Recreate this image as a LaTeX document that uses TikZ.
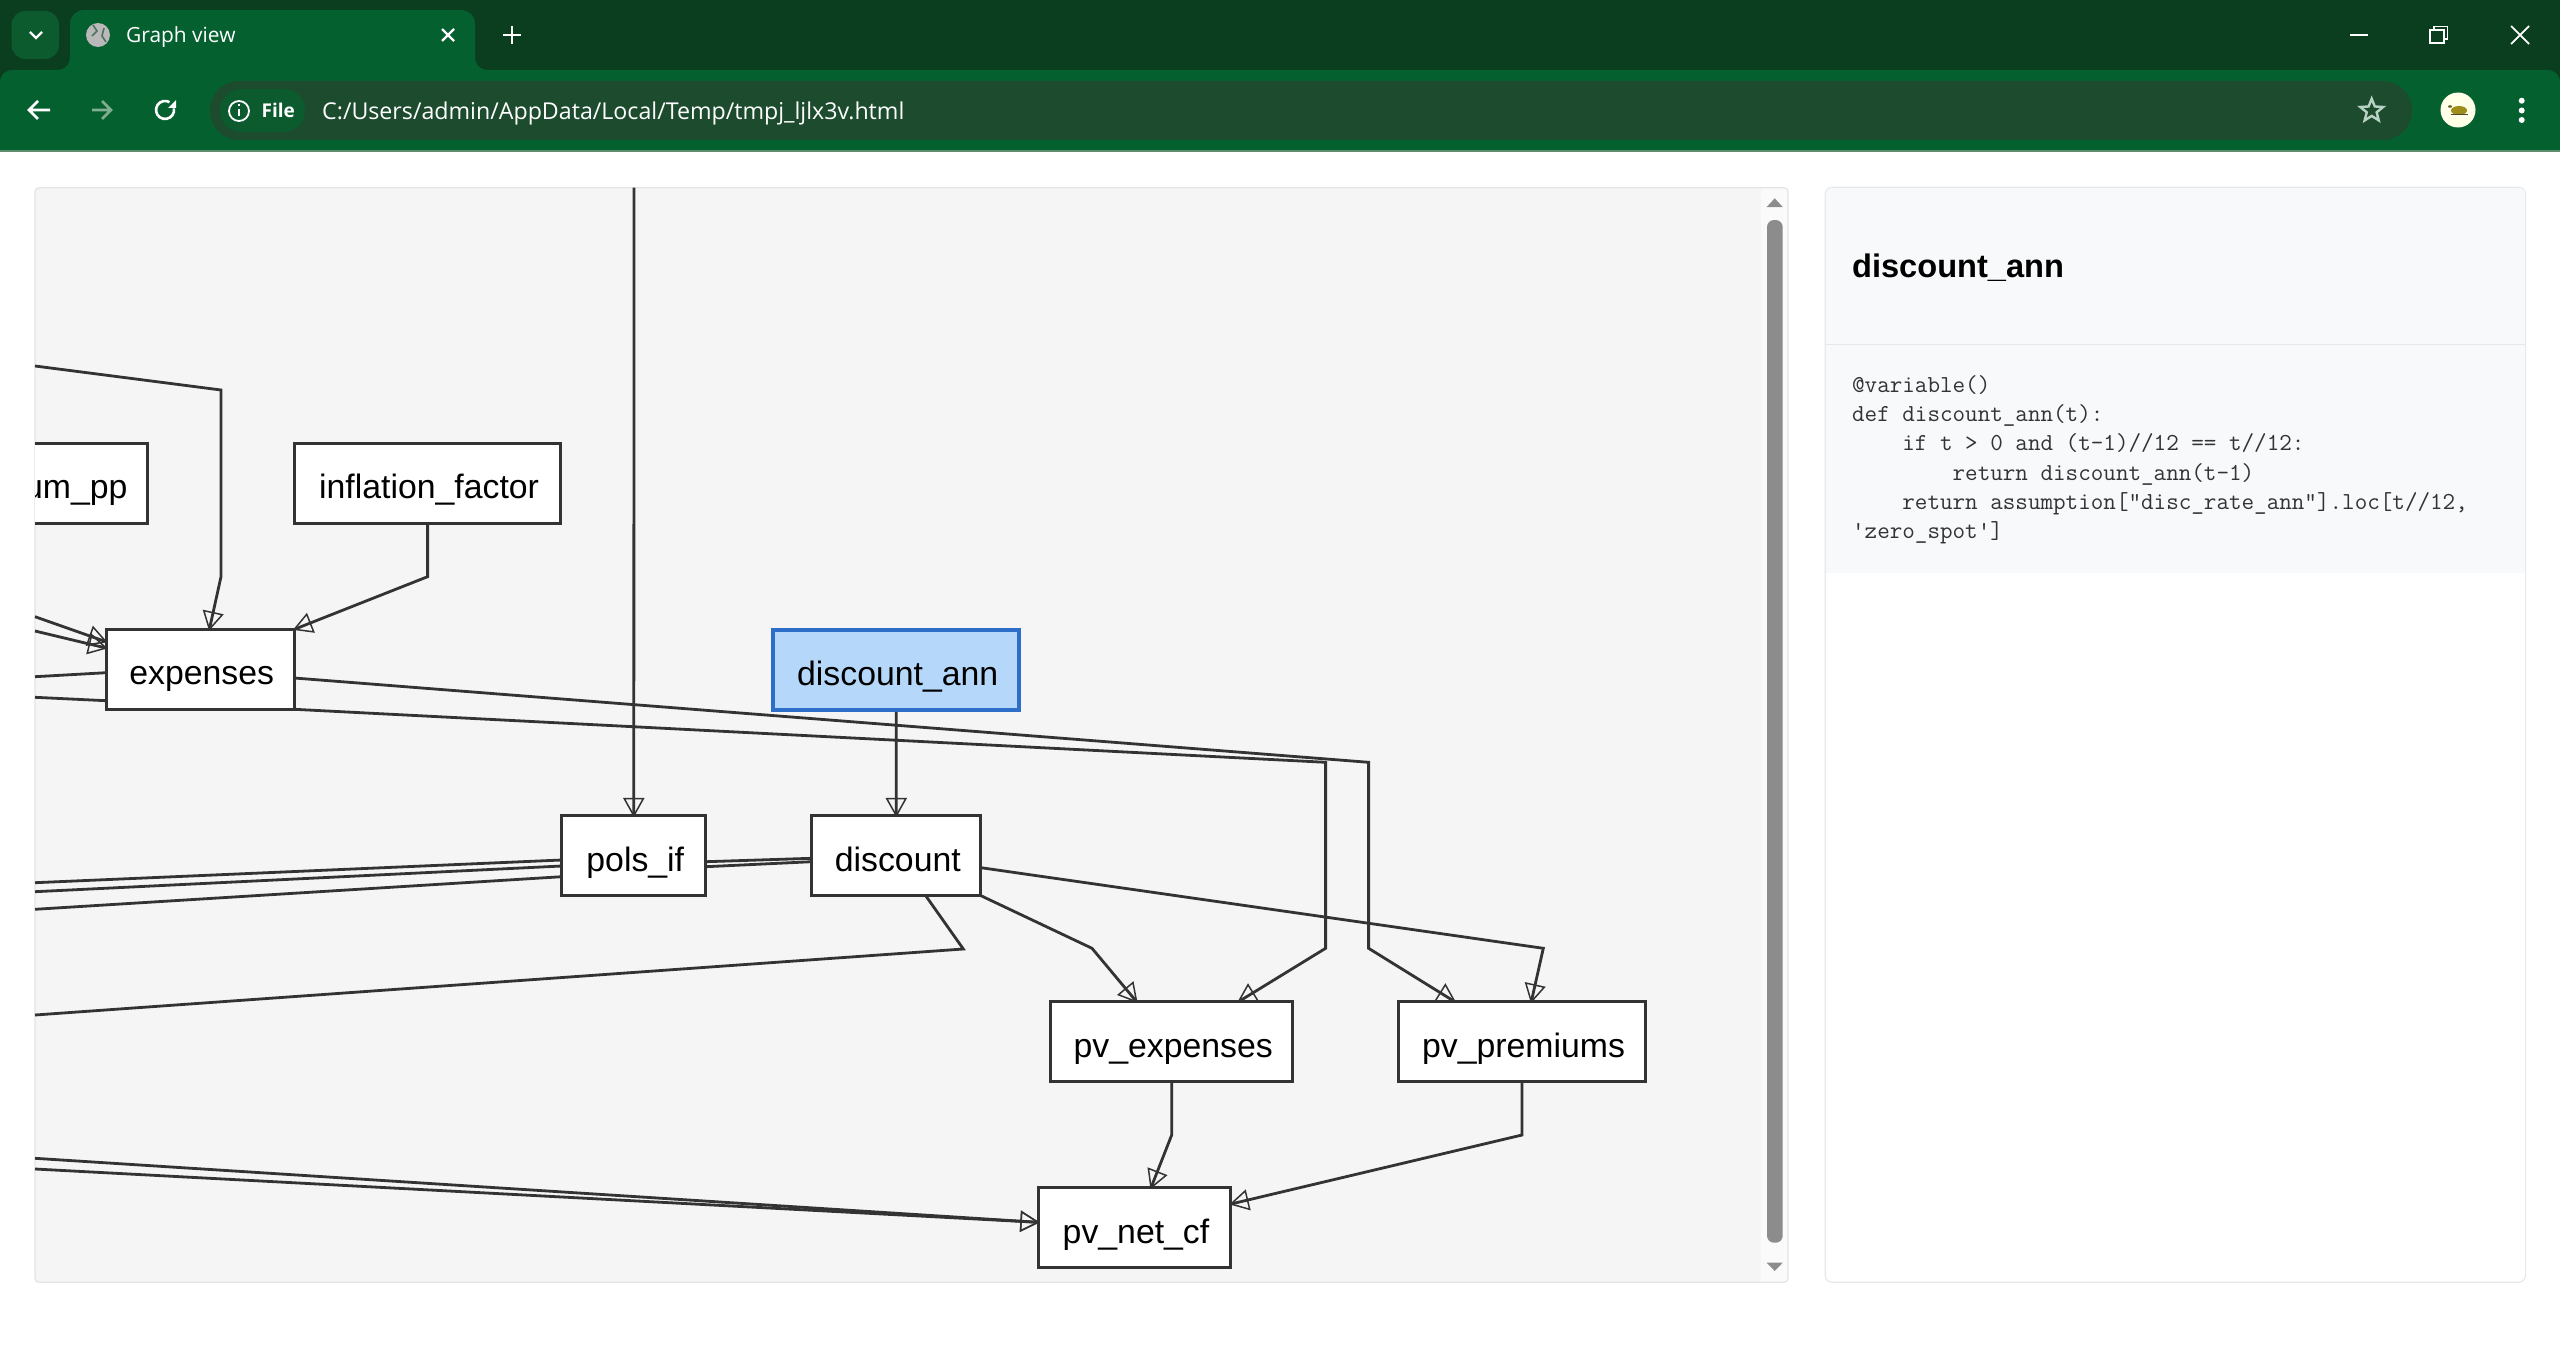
\documentclass[tikz,border=0pt]{standalone}
\usepackage{fontspec}
\setmainfont{Liberation Sans}
\newfontfamily\uifont{Open Sans}
\usetikzlibrary{backgrounds,shapes.geometric}

\definecolor{titlegreen}{HTML}{0B3D1F}
\definecolor{toolgreen}{HTML}{05602F}
\definecolor{barfill}{HTML}{1C4B2E}
\definecolor{chipfill}{HTML}{0B5B2E}
\definecolor{rimgreen}{HTML}{5F8F70}
\definecolor{dimgreen}{HTML}{7FAE90}
\definecolor{inkgrey}{HTML}{333333}
\definecolor{panelgrey}{HTML}{F5F5F5}
\definecolor{rimgrey}{HTML}{E4E4E4}
\definecolor{trackgrey}{HTML}{FAFAFA}
\definecolor{thumbgrey}{HTML}{8C8C8C}
\definecolor{sidefill}{HTML}{F8F9FB}
\definecolor{sideline}{HTML}{E6E8EB}
\definecolor{pickfill}{HTML}{B5D8FA}
\definecolor{pickline}{HTML}{2D6EC8}

\pgfdeclarearrow{
	name=OpenHead,
	setup code={
		\pgfarrowssettipend{0pt}
		\pgfarrowssetlineend{-1pt}
		\pgfarrowssetbackend{-17pt}
		\pgfarrowssetvisualbackend{-17pt}
	},
	drawing code={
		\pgfsetlinewidth{1.5pt}
		\pgfsetmiterjoin
		\pgfpathmoveto{\pgfpoint{0pt}{0pt}}
		\pgfpathlineto{\pgfpoint{-17pt}{9.5pt}}
		\pgfpathlineto{\pgfpoint{-17pt}{-9.5pt}}
		\pgfpathclose
		\pgfusepathqstroke
	}
}

\tikzset{
	>=OpenHead,
	gnode/.style={draw=inkgrey, fill=white, line width=3pt, inner xsep=0pt, inner ysep=0pt,
		outer sep=0pt, minimum height=80pt, text height=35pt, text depth=4pt,
		font=\fontsize{33.8}{40}\selectfont, execute at begin node=\hspace*{3pt}},
	picknode/.style={gnode, draw=pickline, fill=pickfill, line width=4pt},
	edgeline/.style={draw=inkgrey, line width=2.8pt},
	winicon/.style={draw=white, line width=2.2pt},
	uitext/.style={text=white, inner sep=0pt, anchor=base west}
}

\begin{document}
\begin{tikzpicture}[x=1pt,y=-1pt]
	\useasboundingbox (0,0) rectangle (2560,1370);

	% browser frame
	\fill[titlegreen] (0,0) rectangle (2560,80);
	\fill[toolgreen] (0,150) -- (0,83) .. controls (0,75) and (5,70) .. (13,70) -- (2547,70)
		.. controls (2555,70) and (2560,75) .. (2560,83) -- (2560,150) -- cycle;
	\fill[rimgreen] (0,150) rectangle (2560,152);
	\fill[toolgreen] (56,70) .. controls (65,70) and (70,65) .. (70,56) -- (70,24)
		.. controls (70,16) and (76,10) .. (84,10) -- (461,10)
		.. controls (469,10) and (475,16) .. (475,24) -- (475,56)
		.. controls (475,65) and (480,70) .. (489,70) -- cycle;
	\fill[chipfill, rounded corners=14pt] (11.5,11) rectangle (59,59);
	\draw[winicon] (30,32) -- (36,38) -- (42,32);
	\fill[gray!55!white] (98,35) circle (12pt);
	\draw[gray!60!toolgreen, line width=1.6pt] (93,25) -- (97,31) -- (92,36) (104,28) -- (102,36) -- (106,42);
	\node[uitext, font=\uifont\fontsize{20.9}{24}\selectfont] (tab_title) at (126,43) {Graph view};
	\draw[winicon] (442,29) -- (454,41) (454,29) -- (442,41);
	\draw[winicon] (512,26) -- (512,44) (503,35) -- (521,35);
	\draw[winicon, line width=1.8pt] (2350,35) -- (2368,35);
	\draw[winicon, line width=1.8pt] (2430,30) rectangle (2444,43);
	\draw[winicon, line width=1.8pt] (2434,30) -- (2434,26.5) -- (2447.5,26.5) -- (2447.5,39) -- (2444,39);
	\draw[winicon, line width=1.8pt] (2511,26) -- (2529,44) (2529,26) -- (2511,44);

	% toolbar
	\draw[winicon, line width=2.6pt] (50,110) -- (30,110) (38,101) -- (29,110) -- (38,119);
	\draw[winicon, draw=dimgreen, line width=2.6pt] (92,110) -- (111,110) (102,101) -- (111,110) -- (102,119);
	\draw[winicon, line width=2.6pt] (173.9,108.4) arc[start angle=10, end angle=-300, radius=9pt];
	\fill[white] (176,100) -- (176,108) -- (168,108) -- cycle;
	\fill[barfill, rounded corners=29pt] (210,81) rectangle (2412,140);
	\fill[chipfill, rounded corners=21pt] (220,89) rectangle (305,132);
	\draw[white, line width=1.8pt] (239,111) circle (10pt);
	\draw[white, line width=1.8pt] (239,109) -- (239,116) (239,104.5) -- (239,106.5);
	\node[uitext, font=\uifont\bfseries\fontsize{19}{24}\selectfont] (chip_text) at (261.5,118) {File};
	\node[uitext, font=\uifont\fontsize{23.2}{28}\selectfont] (url_text) at (322,120)
		{C:/Users/admin/AppData/Local/Temp/tmpj\_ljlx3v.html};
	\node[star, star points=5, star point ratio=2.3, draw=white!72!toolgreen, line width=2.4pt,
		minimum size=24pt, inner sep=0pt] (bookmark_star) at (2371.7,110.7) {};
	\fill[white!90!yellow] (2458,110) circle (17.5pt);
	\fill[olive!70!brown] (2459,110.5) ellipse (8pt and 4.5pt);
	\fill[olive!60!black] (2450,106.5) ellipse (2pt and 1.3pt);
	\draw[black!60!olive, line width=1.2pt] (2451,114.5) -- (2468,114.5);
	\foreach \y in {100.7,110.5,120}
	{
		\fill[white] (2521.7,\y) circle (3pt);
	}

	% graph nodes
	\begin{scope}
		\clip (35,187.7) rectangle (1788,1282.3);
		\node[gnode, anchor=east, minimum width=150pt, inner xsep=20pt, text width=110pt, align=right,
			execute at begin node={}] (premium_pp) at (147.4,483.3) {um\_pp};
	\end{scope}
	\node[gnode, minimum width=265.6pt] (inflation_factor) at (427.6,483.3) {inflation\_factor};
	\node[gnode, minimum width=188.4pt] (expenses) at (200.2,669.3) {expenses};
	\node[picknode, minimum width=246.3pt] (discount_ann) at (896.2,669.6) {discount\_ann};
	\node[gnode, minimum width=144.3pt] (pols_if) at (633.8,855.7) {pols\_if};
	\node[gnode, minimum width=169.3pt] (discount) at (896.3,855.7) {discount};
	\node[gnode, minimum width=242.5pt] (pv_expenses) at (1171.7,1041.7) {pv\_expenses};
	\node[gnode, minimum width=246.4pt] (pv_premiums) at (1522,1041.7) {pv\_premiums};
	\node[gnode, minimum width=192.9pt] (pv_net_cf) at (1134.5,1227.7) {pv\_net\_cf};

	% free ends at the rim of the panel
	\coordinate (rim_top) at (634,187.7);
	\coordinate (rim_a) at (35,366);
	\coordinate (rim_b) at (35,616.7);
	\coordinate (rim_c) at (35,631);
	\coordinate (rim_d) at (35,676.7);
	\coordinate (rim_e) at (35,697.3);
	\coordinate (rim_f) at (35,882.7);
	\coordinate (rim_g) at (35,891.7);
	\coordinate (rim_h) at (35,909.3);
	\coordinate (rim_i) at (35,1015);
	\coordinate (rim_j) at (35,1158.3);
	\coordinate (rim_k) at (35,1169);

	\begin{scope}[on background layer]
		\fill[panelgrey] (35,187.7) rectangle (1761,1282.3);
		\fill[trackgrey] (1761,187.7) rectangle (1788,1282.3);
		\draw[rimgrey, line width=1.2pt, rounded corners=4pt] (35,187.7) rectangle (1788,1282.3);

		\draw[edgeline, ->] (rim_a) -- (221,390) -- (221,576.7) -- ([xshift=9.2pt]expenses.north);
		\draw[edgeline, ->] (inflation_factor.south) -- (427.6,576.7) -- (expenses.north east);
		\draw[edgeline, ->] (rim_b) -- ([yshift=27.6pt]expenses.west);
		\draw[edgeline, ->] (rim_c) -- ([yshift=21.3pt]expenses.west);
		\draw[edgeline] ([yshift=-3.4pt]expenses.west) -- (rim_d);
		\draw[edgeline] ([yshift=-31.4pt]expenses.west) -- (rim_e);
		\draw[edgeline, ->] ([yshift=-8.7pt]expenses.east) -- (1368.6,762.3) -- (1368.6,948.3) -- ([xshift=-67.2pt]pv_premiums.north);
		\draw[edgeline, ->] (expenses.south east) -- (1325.6,762.3) -- (1325.6,948.3) -- ([xshift=66.8pt]pv_expenses.north);
		\draw[edgeline, ->] (rim_top) -- (pols_if.north);
		\draw[edgeline, ->] (discount_ann.south) -- (discount.north);
		\draw[edgeline] ([yshift=-6pt]pols_if.east) -- ([yshift=-2.6pt]discount.west);
		\draw[edgeline] ([yshift=-11pt]pols_if.east) -- ([yshift=-6pt]discount.west);
		\draw[edgeline] ([yshift=-4.3pt]pols_if.west) -- (rim_f);
		\draw[edgeline] ([yshift=-10.3pt]pols_if.west) -- (rim_g);
		\draw[edgeline] ([yshift=-21pt]pols_if.west) -- (rim_h);
		\draw[edgeline] ([xshift=29.4pt]discount.south) -- (963.3,949) -- (rim_i);
		\draw[edgeline, ->] ([yshift=-12pt]discount.east) -- (1543.3,948.3) -- ([xshift=9.3pt]pv_premiums.north);
		\draw[edgeline, ->] (discount.south east) -- (1092,948.3) -- ([xshift=-35.1pt]pv_expenses.north);
		\draw[edgeline, ->] (rim_j) -- ([yshift=5.4pt]pv_net_cf.west);
		\draw[edgeline, ->] (rim_k) -- ([yshift=5.4pt]pv_net_cf.west);
		\draw[edgeline, ->] (pv_expenses.south) -- (1171.7,1135) -- ([xshift=16.5pt]pv_net_cf.north);
		\draw[edgeline, ->] (pv_premiums.south) -- (1522,1135) -- ([yshift=23.7pt]pv_net_cf.east);
	\end{scope}

	% scroll bar
	\fill[thumbgrey, rounded corners=7pt] (1767,220) rectangle (1782.7,1242.7);
	\fill[thumbgrey] (1766.7,207) -- (1774.7,198.3) -- (1782.7,207) -- cycle;
	\fill[thumbgrey] (1766.7,1262.7) -- (1774.7,1271) -- (1782.7,1262.7) -- cycle;

	% side panel
	\draw[sideline, fill=white, line width=1.2pt, rounded corners=7pt] (1825.2,187.3) rectangle (2525.6,1282.3);
	\fill[sidefill, rounded corners=6pt] (1826,188) rectangle (2525,400);
	\fill[sidefill] (1826,300) rectangle (2525,573.3);
	\draw[sideline, line width=1.5pt] (1825.2,344.3) -- (2525.6,344.3);
	\node[inner sep=0pt, anchor=base west, font=\bfseries\fontsize{32.6}{38}\selectfont] (side_title) at (1851.9,277.5) {discount\_ann};
	\node[inner sep=0pt, anchor=north west, align=left, text=inkgrey, font=\ttfamily\fontsize{24.4}{29.3}\selectfont] (side_code) at (1851.9,375)
		{@variable()\\
		def discount\_ann(t):\\
		\ \ \ \ if t > 0 and (t-1)//12 == t//12:\\
		\ \ \ \ \ \ \ \ return discount\_ann(t-1)\\
		\ \ \ \ return assumption["disc\_rate\_ann"].loc[t//12,\\
		'zero\_spot']};
\end{tikzpicture}
\end{document}
